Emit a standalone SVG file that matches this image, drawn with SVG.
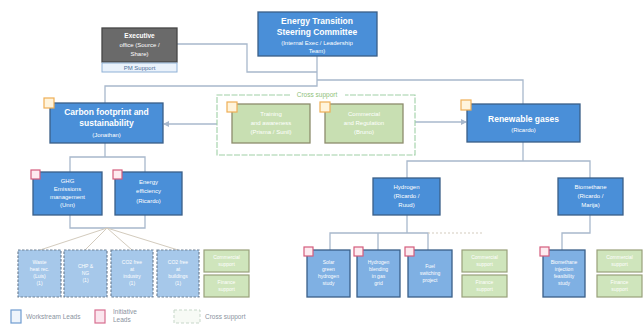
<svg xmlns="http://www.w3.org/2000/svg" width="644" height="330" viewBox="0 0 644 330">
<defs>
<style>
.nb{fill:#4a8fd8;stroke:#3a5f88;stroke-width:1.3}
.ng{fill:#c8dfb2;stroke:#8d8c6c;stroke-width:1.3}
.nl{fill:#a6c8ea;stroke:#6f8196;stroke-width:1.2;stroke-dasharray:2.5 1.5}
.ngs{fill:#cfe5bc;stroke:#98a07a;stroke-width:1.2}
.t{font-family:"Liberation Sans",Arial,sans-serif;fill:#fff;text-anchor:middle}
.b{font-size:8.5px;font-weight:bold}
.s{font-size:6px}
.xs{font-size:5px}
.c{fill:none;stroke:#a8b8cc;stroke-width:1.3}
.cf{fill:none;stroke:#d3cbbd;stroke-width:1}
.io{fill:#fff4dc;stroke:#efae55;stroke-width:1.2}
.ir{fill:#fdebf0;stroke:#d45c7c;stroke-width:1.2}
.lg{font-family:"Liberation Sans",Arial,sans-serif;font-size:6.5px;fill:#8a93a0}
</style>
<marker id="ah" markerWidth="6" markerHeight="6" refX="5" refY="3" orient="auto" markerUnits="userSpaceOnUse">
<path d="M0,0 L6,3 L0,6 z" fill="#a8b8cc"/>
</marker>
</defs>
<rect width="644" height="330" fill="#ffffff"/>

<g id="connectors">
<polyline class="c" points="177,44 247,44 247,72 317,72"/>
<polyline class="c" points="317,56 317,86 105,86 105,103"/>
<polyline class="c" points="317,80 523,80 523,104"/>
<line class="c" x1="217" y1="124" x2="164" y2="124" marker-end="url(#ah)"/>
<line class="c" x1="415" y1="122" x2="466" y2="122" marker-end="url(#ah)"/>
<polyline class="c" points="105,143 105,157"/>
<polyline class="c" points="70,172 70,157 145,157 145,172"/>
<polyline class="c" points="70,215 70,228 145,228 145,215"/>
<line class="cf" x1="107" y1="228" x2="40" y2="250"/>
<line class="cf" x1="107" y1="228" x2="85" y2="250"/>
<line class="cf" x1="107" y1="228" x2="132" y2="250"/>
<line class="cf" x1="107" y1="228" x2="178" y2="250"/>
<polyline class="c" points="523,142 523,161"/>
<polyline class="c" points="407,178 407,161 590,161 590,178"/>
<polyline class="c" points="407,215 407,233"/>
<polyline class="c" points="330,250 330,233 428,233 428,250"/>
<line class="c" x1="378" y1="233" x2="378" y2="250"/>
<line class="cf" x1="428" y1="233" x2="484" y2="233" stroke-dasharray="2 2"/>
<polyline class="c" points="590,215 590,233 562,233 562,250"/>
</g>

<g id="steering">
<rect class="nb" x="258" y="12" width="119" height="44"/>
<text class="t b" x="317" y="24">Energy Transition</text>
<text class="t b" x="317" y="35">Steering Committee</text>
<text class="t s" x="317" y="45">(Internal Exec / Leadership</text>
<text class="t s" x="317" y="53">Team)</text>
</g>

<g id="executive">
<rect x="102" y="28" width="75" height="34" fill="#6a6a6a" stroke="#454545" stroke-width="1.3"/>
<text class="t" x="139.5" y="38" font-size="6.5" font-weight="bold">Executive</text>
<text class="t s" x="139.5" y="47">office (Source /</text>
<text class="t s" x="139.5" y="56">Share)</text>
<rect x="102" y="63" width="75" height="9" fill="#eaf2fb" stroke="#8fb1d6" stroke-width="1"/>
<text x="139.5" y="70" font-family="Liberation Sans,Arial,sans-serif" font-size="6" fill="#4a6f99" text-anchor="middle">PM Support</text>
</g>

<g id="carbon">
<rect class="nb" x="50" y="103" width="113" height="40"/>
<text class="t b" x="106.5" y="115">Carbon footprint and</text>
<text class="t b" x="106.5" y="126">sustainability</text>
<text class="t s" x="106.5" y="137">(Jonathan)</text>
<rect class="io" x="44" y="98" width="10" height="10"/>
</g>

<g id="cross-support">
<path d="M290,95 H217 V155 H415 V95 H345" fill="none" stroke="#9fd0a6" stroke-width="1.1" stroke-dasharray="6 1.5"/>
<text x="317" y="97" font-family="Liberation Sans,Arial,sans-serif" font-size="6.5" fill="#8fbf7a" text-anchor="middle">Cross support</text>
</g>

<g id="training">
<rect class="ng" x="232" y="104" width="78" height="39"/>
<text class="t s" x="271" y="116">Training</text>
<text class="t s" x="271" y="125">and awareness</text>
<text class="t s" x="271" y="134">(Prisma / Sunil)</text>
<rect class="io" x="227" y="102" width="10" height="10"/>
</g>

<g id="commercial">
<rect class="ng" x="325" y="104" width="78" height="39"/>
<text class="t s" x="364" y="116">Commercial</text>
<text class="t s" x="364" y="125">and Regulation</text>
<text class="t s" x="364" y="134">(Bruno)</text>
<rect class="io" x="320" y="102" width="10" height="10"/>
</g>

<g id="renewable">
<rect class="nb" x="467" y="104" width="113" height="38"/>
<text class="t b" x="523.5" y="122">Renewable gases</text>
<text class="t s" x="523.5" y="132">(Ricardo)</text>
<rect class="io" x="461" y="100" width="10" height="10"/>
</g>

<g id="ghg">
<rect class="nb" x="33" y="172" width="69" height="43"/>
<text class="t s" x="67.5" y="183">GHG</text>
<text class="t s" x="67.5" y="191">Emissions</text>
<text class="t s" x="67.5" y="199">management</text>
<text class="t s" x="67.5" y="207">(Unn)</text>
<rect class="ir" x="31" y="170" width="9" height="9"/>
</g>

<g id="efficiency">
<rect class="nb" x="115" y="172" width="67" height="43"/>
<text class="t s" x="148.5" y="184">Energy</text>
<text class="t s" x="148.5" y="193">efficiency</text>
<text class="t s" x="148.5" y="203">(Ricardo)</text>
<rect class="ir" x="113" y="170" width="9" height="9"/>
</g>

<g id="hydrogen">
<rect class="nb" x="373" y="178" width="67" height="37"/>
<text class="t s" x="406.5" y="189">Hydrogen</text>
<text class="t s" x="406.5" y="198">(Ricardo /</text>
<text class="t s" x="406.5" y="207">Ruud)</text>
</g>

<g id="biomethane">
<rect class="nb" x="558" y="178" width="65" height="37"/>
<text class="t s" x="590.5" y="189">Biomethane</text>
<text class="t s" x="590.5" y="198">(Ricardo /</text>
<text class="t s" x="590.5" y="207">Marija)</text>
</g>

<g id="ee1">
<rect class="nl" x="18" y="250" width="43" height="47"/>
<text class="t xs" x="39.5" y="264">Waste</text>
<text class="t xs" x="39.5" y="271">heat rec.</text>
<text class="t xs" x="39.5" y="278">(Luis)</text>
<text class="t xs" x="39.5" y="285">(1)</text>
</g>
<g id="ee2">
<rect class="nl" x="64" y="250" width="43" height="47"/>
<text class="t xs" x="85.5" y="268">CHP &amp;</text>
<text class="t xs" x="85.5" y="275">NG</text>
<text class="t xs" x="85.5" y="282">(1)</text>
</g>
<g id="ee3">
<rect class="nl" x="111" y="250" width="42" height="47"/>
<text class="t xs" x="132" y="264">CO2 free</text>
<text class="t xs" x="132" y="271">at</text>
<text class="t xs" x="132" y="278">industry</text>
<text class="t xs" x="132" y="285">(1)</text>
</g>
<g id="ee4">
<rect class="nl" x="157" y="250" width="42" height="47"/>
<text class="t xs" x="178" y="264">CO2 free</text>
<text class="t xs" x="178" y="271">at</text>
<text class="t xs" x="178" y="278">buildings</text>
<text class="t xs" x="178" y="285">(1)</text>
</g>
<g id="eeg1">
<rect class="ngs" x="204" y="250" width="45" height="22"/>
<text class="t xs" x="226.5" y="259">Commercial</text>
<text class="t xs" x="226.5" y="266">support</text>
</g>
<g id="eeg2">
<rect class="ngs" x="204" y="275" width="45" height="22"/>
<text class="t xs" x="226.5" y="284">Finance</text>
<text class="t xs" x="226.5" y="291">support</text>
</g>

<g id="h1">
<rect class="nb" x="307" y="250" width="43" height="47" style="fill:#7fb0e3"/>
<text class="t xs" x="328.5" y="264">Solar</text>
<text class="t xs" x="328.5" y="271">green</text>
<text class="t xs" x="328.5" y="278">hydrogen</text>
<text class="t xs" x="328.5" y="285">study</text>
<rect class="ir" x="304" y="247" width="9" height="9"/>
</g>
<g id="h2">
<rect class="nb" x="357" y="250" width="43" height="47" style="fill:#7fb0e3"/>
<text class="t xs" x="378.5" y="264">Hydrogen</text>
<text class="t xs" x="378.5" y="271">blending</text>
<text class="t xs" x="378.5" y="278">in gas</text>
<text class="t xs" x="378.5" y="285">grid</text>
<rect class="ir" x="354" y="247" width="9" height="9"/>
</g>
<g id="h3">
<rect class="nb" x="408" y="250" width="44" height="47" style="fill:#7fb0e3"/>
<text class="t xs" x="430" y="268">Fuel</text>
<text class="t xs" x="430" y="275">switching</text>
<text class="t xs" x="430" y="282">project</text>
<rect class="ir" x="405" y="247" width="9" height="9"/>
</g>
<g id="hg1">
<rect class="ngs" x="462" y="250" width="45" height="22"/>
<text class="t xs" x="484.5" y="259">Commercial</text>
<text class="t xs" x="484.5" y="266">support</text>
</g>
<g id="hg2">
<rect class="ngs" x="462" y="275" width="45" height="22"/>
<text class="t xs" x="484.5" y="284">Finance</text>
<text class="t xs" x="484.5" y="291">support</text>
</g>

<g id="b1">
<rect class="nb" x="543" y="250" width="42" height="47" style="fill:#7fb0e3"/>
<text class="t xs" x="564" y="264">Biomethane</text>
<text class="t xs" x="564" y="271">injection</text>
<text class="t xs" x="564" y="278">feasibility</text>
<text class="t xs" x="564" y="285">study</text>
<rect class="ir" x="540" y="247" width="9" height="9"/>
</g>
<g id="bg1">
<rect class="ngs" x="597" y="250" width="45" height="22"/>
<text class="t xs" x="619.5" y="259">Commercial</text>
<text class="t xs" x="619.5" y="266">support</text>
</g>
<g id="bg2">
<rect class="ngs" x="597" y="275" width="45" height="22"/>
<text class="t xs" x="619.5" y="284">Finance</text>
<text class="t xs" x="619.5" y="291">support</text>
</g>

<g id="legend">
<rect x="11" y="310" width="10" height="13" fill="#eef4fb" stroke="#6e9bd0" stroke-width="1.2"/>
<text class="lg" x="26" y="319">Workstream Leads</text>
<rect x="95" y="310" width="10" height="13" fill="#fbe6ee" stroke="#d86e90" stroke-width="1.2"/>
<text class="lg" x="113" y="314">Initiative</text>
<text class="lg" x="113" y="322">Leads</text>
<rect x="174" y="310" width="26" height="13" fill="#f7faf5" stroke="#c7d7c9" stroke-width="1" stroke-dasharray="3 2"/>
<text class="lg" x="205" y="319">Cross support</text>
</g>
</svg>
